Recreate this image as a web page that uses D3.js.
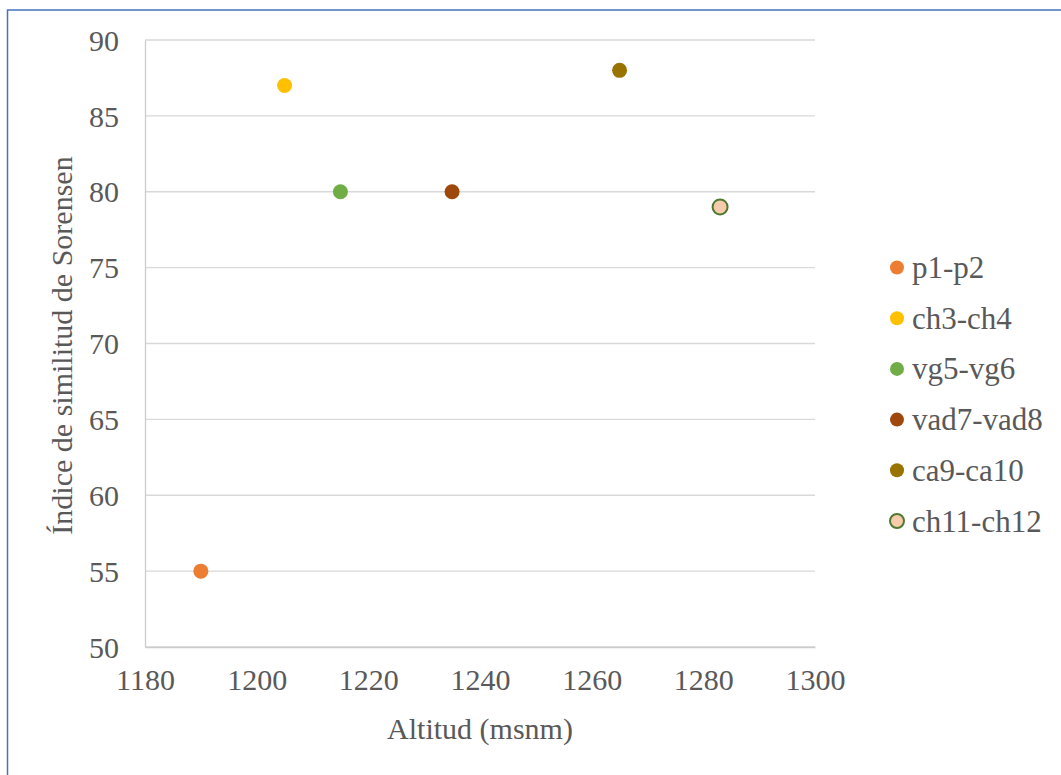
<!DOCTYPE html>
<html>
<head>
<meta charset="utf-8">
<script src="https://cdn.jsdelivr.net/npm/d3@7"></script>
<style>
  body { margin: 0; background: #fff; }
  text { font-family: "Liberation Serif", "Times New Roman", serif; fill: #595959; }
</style>
</head>
<body>
<div class="chart"></div>
<script>
var svgWidth = 1061;
var svgHeight = 775;

// Data
var seriesNames = ["p1-p2", "ch3-ch4", "vg5-vg6", "vad7-vad8", "ca9-ca10", "ch11-ch12"];
var altitudes = [1190, 1205, 1215, 1235, 1265, 1283];
var sorensen = [55, 87, 80, 80, 88, 79];
var xTicks = [1180, 1200, 1220, 1240, 1260, 1280, 1300];
var yTicks = [50, 55, 60, 65, 70, 75, 80, 85, 90];

var fills = ["#ED7D31", "#FFC000", "#70AD47", "#9E480E", "#997300", "#F8CBAD"];
var strokes = ["none", "none", "none", "none", "none", "#4E7A30"];

var margin = { top: 40, right: 246, bottom: 128, left: 145 };
var width = svgWidth - margin.left - margin.right;
var height = svgHeight - margin.top - margin.bottom;

var svg = d3.select(".chart")
  .append("svg")
  .attr("width", svgWidth)
  .attr("height", svgHeight);

// outer frame (only left/top edges visible)
svg.append("rect")
  .attr("x", 7.5)
  .attr("y", 10)
  .attr("width", 1100)
  .attr("height", 800)
  .attr("fill", "none")
  .attr("stroke", "#4472C4")
  .attr("stroke-width", 1.5);

var chartGroup = svg.append("g")
  .attr("transform", `translate(${margin.left}, ${margin.top})`);

var x = d3.scaleLinear().domain([1180, 1300]).range([0, width]);
var y = d3.scaleLinear().domain([50, 90]).range([height, 0]);

// gridlines
chartGroup.append("g")
  .selectAll("line")
  .data(yTicks)
  .enter()
  .append("line")
  .attr("x1", 0)
  .attr("x2", width)
  .attr("y1", d => y(d))
  .attr("y2", d => y(d))
  .attr("stroke", "#d9d9d9")
  .attr("stroke-width", 1.3);

// axes
var bottomAxis = d3.axisBottom(x).tickValues(xTicks).tickFormat(d3.format("d")).tickSize(0).tickPadding(22);
var leftAxis = d3.axisLeft(y).tickValues(yTicks).tickFormat(d3.format("d")).tickSize(0).tickPadding(26);

var xg = chartGroup.append("g")
  .attr("transform", `translate(0, ${height})`)
  .call(bottomAxis);
var yg = chartGroup.append("g").call(leftAxis);

[xg, yg].forEach(function(g) {
  g.attr("font-family", null).attr("font-size", null);
  g.select(".domain").attr("stroke", "#cccccc").attr("stroke-width", 1.3);
  g.selectAll("text")
    .attr("font-size", 30)
    .attr("fill", "#595959");
});
yg.selectAll("text").attr("dy", "0.34em");

// points
chartGroup.append("g").selectAll("circle")
  .data(altitudes)
  .enter()
  .append("circle")
  .attr("cx", d => x(d))
  .attr("cy", (d, i) => y(sorensen[i]))
  .attr("r", 7.5)
  .attr("fill", (d, i) => fills[i])
  .attr("stroke", (d, i) => strokes[i])
  .attr("stroke-width", 2);

// axis titles
chartGroup.append("text")
  .attr("transform", `translate(${-83}, ${height / 2 + 2}) rotate(-90)`)
  .attr("text-anchor", "middle")
  .attr("dy", "0.34em")
  .attr("font-size", 30)
  .text("Índice de similitud de Sorensen");

chartGroup.append("text")
  .attr("x", width / 2)
  .attr("y", height + 92)
  .attr("text-anchor", "middle")
  .attr("font-size", 30)
  .text("Altitud (msnm)");

// legend
var legend = svg.append("g")
  .selectAll("g")
  .data(seriesNames)
  .enter()
  .append("g")
  .attr("transform", (d, i) => `translate(897, ${267.5 + i * 50.7})`);

legend.append("circle")
  .attr("r", 7)
  .attr("fill", (d, i) => fills[i])
  .attr("stroke", (d, i) => strokes[i])
  .attr("stroke-width", 2);

legend.append("text")
  .attr("x", 15)
  .attr("dy", "0.34em")
  .attr("font-size", 31)
  .text(d => d);
</script>
</body>
</html>
